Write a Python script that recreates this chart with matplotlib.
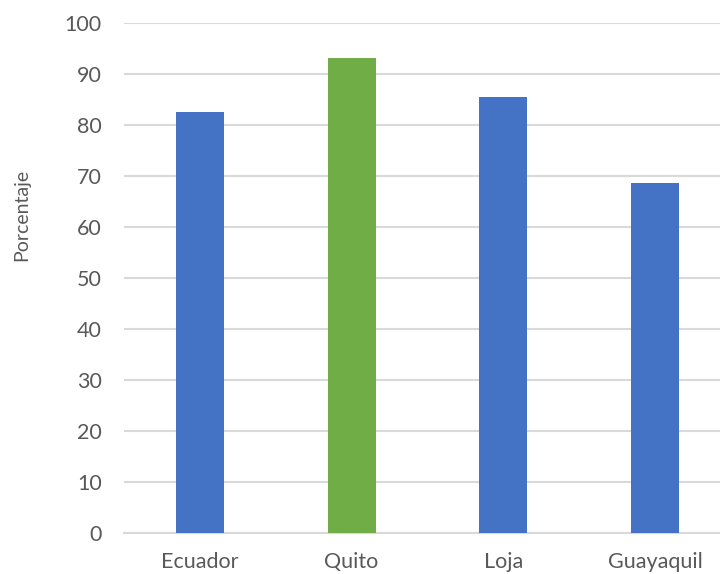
import matplotlib
matplotlib.use("Agg")
import matplotlib.pyplot as plt

categories = ["Ecuador", "Quito", "Loja", "Guayaquil"]
values = [82.5, 93.1, 85.4, 68.6]
colors = ["#4472C4", "#70AD47", "#4472C4", "#4472C4"]
yticks = [0, 10, 20, 30, 40, 50, 60, 70, 80, 90, 100]

plt.rcParams["font.family"] = ["Lato", "DejaVu Sans"]
text_color = "#595959"
grid_color = "#D9D9D9"

fig = plt.figure(figsize=(7.2, 5.74), dpi=100)
left = 124 / 720
ax = fig.add_axes([left, 41 / 574, 1 - left, (533 - 22.8) / 574])

x = range(len(categories))
ax.bar(x, values, width=0.316, color=colors, zorder=3)

ax.set_ylim(0, 100)
ax.set_xlim(-0.5, (720 - 124) / 151.7 - 0.5)
ax.set_yticks(yticks)
ax.set_xticks(list(x))
ax.set_xticklabels(categories)

ax.yaxis.grid(True, color=grid_color, linewidth=1.5, zorder=0)
for side in ["top", "right", "left"]:
    ax.spines[side].set_visible(False)
ax.spines["bottom"].set_color(grid_color)
ax.spines["bottom"].set_linewidth(1.5)
ax.spines["bottom"].set_zorder(2)

ax.tick_params(axis="both", length=0, colors=text_color, labelsize=15.5)
ax.tick_params(axis="y", pad=16)
ax.tick_params(axis="x", pad=14)

ax.set_ylabel("Porcentaje", color=text_color, fontsize=14)
ax.yaxis.set_label_coords(-0.158, 0.623)

fig.savefig("out.png", dpi=100)
